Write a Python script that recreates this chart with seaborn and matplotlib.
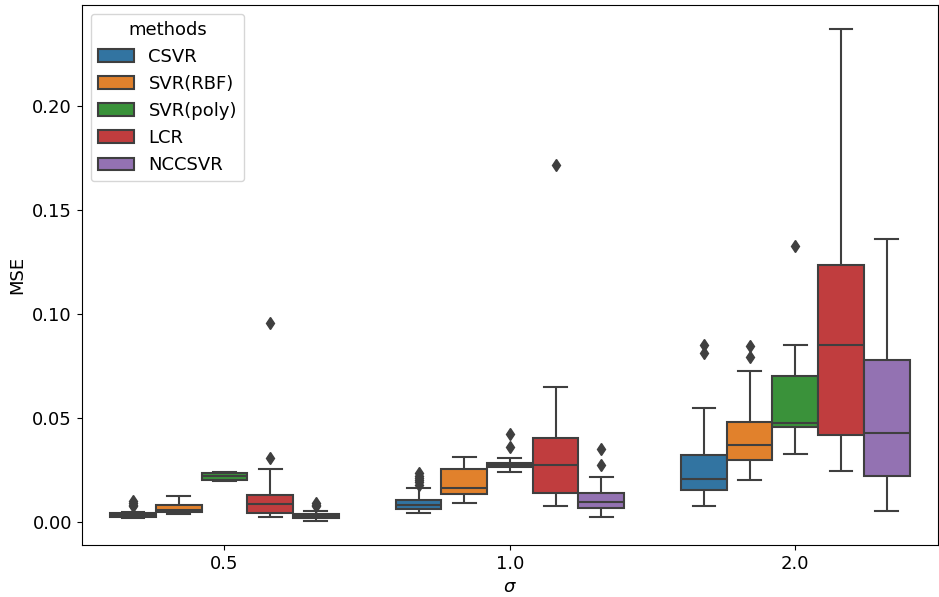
import matplotlib
matplotlib.use("Agg")
import matplotlib.pyplot as plt
import seaborn as sns
import pandas as pd


# 각 sigma, 각 방법별 MSE 값
sigmas = ["0.5", "1.0", "2.0"]
methods = ["CSVR", "SVR(RBF)", "SVR(poly)", "LCR", "NCCSVR"]

csvr_05 = [0.0016, 0.0018, 0.0020, 0.0021, 0.0022, 0.0023, 0.0025, 0.0026, 0.0028, 0.0029, 0.0031,
           0.0033, 0.0035, 0.0037, 0.0040, 0.0042, 0.0048, 0.0074, 0.0079, 0.0088, 0.0098]
rbf_05 = [0.0038, 0.0043, 0.0047, 0.0053, 0.0058, 0.0070, 0.0082, 0.0100, 0.0124]
poly_05 = [0.0197, 0.0199, 0.0200, 0.0210, 0.0218, 0.0226, 0.0234, 0.0236, 0.0237]
lcr_05 = [0.0024, 0.0030, 0.0037, 0.0043, 0.0060, 0.0075, 0.0087, 0.0100, 0.0118, 0.0131,
          0.0256, 0.0306, 0.0957]
ncc_05 = [0.0006, 0.0009, 0.0012, 0.0014, 0.0016, 0.0019, 0.0021, 0.0024, 0.0026, 0.0029, 0.0032,
          0.0035, 0.0038, 0.0054, 0.0074, 0.0080, 0.0088]

csvr_10 = [0.0040, 0.0045, 0.0050, 0.0053, 0.0056, 0.0059, 0.0061, 0.0063, 0.0066, 0.0069, 0.0072,
           0.0075, 0.0078, 0.0080, 0.0082, 0.0085, 0.0088, 0.0091, 0.0094, 0.0097, 0.0100, 0.0104,
           0.0160, 0.0178, 0.0190, 0.0200, 0.0210, 0.0222, 0.0235]
rbf_10 = [0.0090, 0.0115, 0.0135, 0.0148, 0.0160, 0.0205, 0.0256, 0.0285, 0.0313]
poly_10 = [0.0239, 0.0250, 0.0256, 0.0261, 0.0265, 0.0269, 0.0272, 0.0277, 0.0281, 0.0285,
           0.0308, 0.0362, 0.0420]
lcr_10 = [0.0074, 0.0105, 0.0139, 0.0205, 0.0272, 0.0340, 0.0405, 0.0650, 0.1716]
ncc_10 = [0.0024, 0.0040, 0.0052, 0.0064, 0.0075, 0.0085, 0.0095, 0.0110, 0.0125, 0.0139,
          0.0213, 0.0272, 0.0350]

csvr_20 = [0.0077, 0.0110, 0.0135, 0.0151, 0.0170, 0.0188, 0.0205, 0.0250, 0.0285, 0.0319,
           0.0545, 0.0811, 0.0851]
rbf_20 = [0.0202, 0.0240, 0.0270, 0.0295, 0.0320, 0.0345, 0.0370, 0.0405, 0.0440, 0.0479,
          0.0726, 0.0795, 0.0846]
poly_20 = [0.0324, 0.0400, 0.0458, 0.0466, 0.0474, 0.0590, 0.0702, 0.0851, 0.1329]
lcr_20 = [0.0242, 0.0330, 0.0417, 0.0630, 0.0850, 0.1040, 0.1236, 0.1800, 0.2369]
ncc_20 = [0.0050, 0.0135, 0.0220, 0.0320, 0.0426, 0.0600, 0.0776, 0.1050, 0.1360]

values = {
    "0.5": [csvr_05, rbf_05, poly_05, lcr_05, ncc_05],
    "1.0": [csvr_10, rbf_10, poly_10, lcr_10, ncc_10],
    "2.0": [csvr_20, rbf_20, poly_20, lcr_20, ncc_20],
}

# long format 으로 변환
rows = []
for s in sigmas:
    for m, vals in zip(methods, values[s]):
        for v in vals:
            rows.append({"sigma": s, "methods": m, "MSE": v})
df = pd.DataFrame(rows)

plt.rcParams["font.size"] = 13

fig, ax = plt.subplots(figsize=(9.39, 5.97), dpi=100)
sns.boxplot(
    data=df, x="sigma", y="MSE", hue="methods", order=sigmas, hue_order=methods,
    palette="tab10", saturation=0.75, width=0.8, gap=0,
    linecolor="#3f3f3f", linewidth=1.5,
    flierprops=dict(marker="d", markerfacecolor="#3f3f3f", markeredgecolor="#3f3f3f", markersize=6),
    ax=ax,
)
ax.set_xlabel(r"$\sigma$")
ax.set_ylabel("MSE")
ax.legend(title="methods", loc="upper left")

fig.subplots_adjust(left=0.087, right=0.999, top=0.992, bottom=0.087)
plt.savefig("out.png", dpi=100)
plt.close()
